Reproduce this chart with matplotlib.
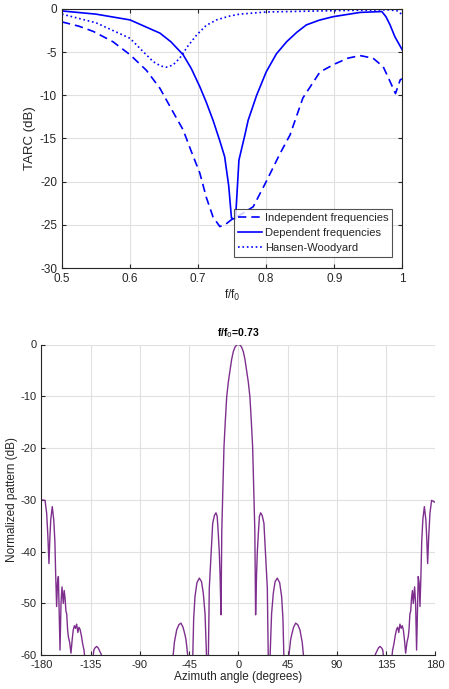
import numpy as np
import matplotlib.pyplot as plt

# ---------- TARC vs f/f0 (top panel) ----------
f_ind = [0.50, 0.525, 0.546, 0.575, 0.60, 0.624, 0.644, 0.663, 0.678, 0.69, 0.7025,
         0.712, 0.722, 0.732, 0.741, 0.749, 0.765, 0.781, 0.80, 0.82, 0.835, 0.854,
         0.879, 0.90, 0.92, 0.938, 0.957, 0.972, 0.982, 0.99, 0.997, 1.0]
tarc_ind = [-1.5, -2.0, -2.6, -3.8, -5.3, -7.1, -9.2, -11.9, -14.0, -16.5, -19.0,
            -21.8, -24.1, -25.2, -24.9, -24.4, -23.7, -22.9, -20.0, -16.8, -14.6, -10.3,
            -7.3, -6.4, -5.7, -5.4, -5.7, -6.7, -8.4, -9.8, -8.2, -8.1]

f_dep = [0.50, 0.55, 0.60, 0.644, 0.66, 0.678, 0.69, 0.7025, 0.712, 0.722, 0.732,
         0.739, 0.745, 0.749, 0.752, 0.755, 0.760, 0.7687, 0.7735, 0.786, 0.80,
         0.815, 0.83, 0.845, 0.859, 0.878, 0.898, 0.938, 0.97, 0.976, 0.982, 0.989, 1.0]
tarc_dep = [-0.23, -0.6, -1.27, -2.8, -3.8, -5.3, -6.9, -9.0, -10.8, -12.9, -15.3,
            -17.1, -20.5, -24.2, -24.3, -24.3, -17.5, -14.6, -12.9, -10.0, -7.3,
            -5.2, -3.8, -2.7, -1.85, -1.3, -0.9, -0.4, -0.3, -0.9, -1.85, -3.2, -4.75]

f_hw = [0.50, 0.55, 0.60, 0.62, 0.634, 0.645, 0.653, 0.663, 0.673, 0.685, 0.698,
        0.712, 0.727, 0.745, 0.761, 0.80, 0.90, 0.977, 0.992, 0.999]
tarc_hw = [-0.6, -1.6, -3.4, -5.0, -6.1, -6.6, -6.75, -6.5, -5.7, -4.3, -3.0,
           -1.9, -1.27, -0.85, -0.6, -0.35, -0.2, -0.1, -0.2, -0.6]

# ---------- Normalized pattern at f/f0 = 0.73 (bottom panel) ----------
az = [-180.0, -176.6, -175.1, -174.0, -173.0, -172.2, -171.4, -170.0, -168.6, -167.6,
      -166.9, -166.0, -165.2, -164.4, -163.6, -162.9, -162.0, -161.1, -160.5, -159.9,
      -159.1, -158.3, -157.5, -156.8, -156.0, -155.3, -154.1, -152.9, -151.8, -150.8,
      -149.8, -148.8, -147.7, -146.6, -145.6, -144.6, -143.4, -142.2, -141.0, -140.0,
      -133.0, -132.0, -131.0, -129.4, -128.0, -126.6, -125.3, -124.0,
      -60.0, -58.4, -56.3, -54.3, -52.4, -50.5, -48.8, -47.8, -45.7,
      -41.7, -40.8, -39.6, -37.8, -35.6, -33.6, -32.0, -30.4, -28.9,
      -27.4, -26.5, -25.2, -23.4, -21.8, -20.4, -19.3, -18.3, -17.4, -16.7, -15.8,
      -15.1, -14.3, -13.1, -11.8, -10.6, -9.1, -7.6, -6.1, -4.6, -3.0, -1.5, 0.0,
      1.5, 3.0, 4.6, 6.1, 7.6, 9.1, 10.6, 11.8, 13.1, 14.3, 15.1,
      15.8, 16.7, 17.4, 18.3, 19.3, 20.4, 21.8, 23.4, 25.2, 26.5, 27.4,
      28.9, 30.4, 32.0, 33.6, 35.6, 37.8, 39.6, 40.8, 41.7,
      45.7, 47.8, 48.8, 50.5, 52.4, 54.3, 56.3, 58.4, 60.0,
      124.0, 125.3, 126.6, 128.0, 129.4, 131.0, 132.0, 133.0,
      140.0, 141.0, 142.2, 143.4, 144.6, 145.6, 146.6, 147.7, 148.8, 149.8,
      150.8, 151.8, 152.9, 154.1, 155.3, 156.0, 156.8, 157.5, 158.3, 159.1,
      159.9, 160.5, 161.1, 162.0, 162.9, 163.6, 164.4, 165.2, 166.0, 166.9,
      167.6, 168.6, 170.0, 171.4, 172.2, 173.0, 174.0, 175.1, 176.6, 180.0]
pattern_db = [-30.0, -30.1, -32.6, -37.0, -42.3, -37.5, -33.9, -31.3, -33.9, -38.0,
              -44.2, -50.6, -46.0, -44.8, -52.0, -59.0, -50.0, -46.8, -48.5, -50.0,
              -47.5, -49.0, -51.5, -52.0, -55.0, -56.4, -57.5, -59.6, -57.0, -55.1,
              -54.3, -54.8, -54.0, -55.6, -54.6, -55.0, -56.2, -57.8, -59.0, -61.0,
              -61.0, -59.0, -58.6, -58.3, -58.6, -59.2, -59.8, -61.0,
              -61.0, -57.5, -55.1, -54.1, -53.8, -54.6, -56.0, -57.0, -61.0,
              -61.0, -53.0, -48.7, -46.0, -45.1, -45.8, -48.0, -52.0, -61.0,
              -61.0, -47.0, -41.6, -34.5, -33.0, -32.5, -33.2, -36.5, -40.0, -44.2, -52.2,
              -36.0, -29.4, -19.8, -14.5, -10.1, -7.2, -5.0, -2.9, -1.4, -0.5, -0.1, 0.0,
              -0.1, -0.5, -1.4, -2.9, -5.0, -7.2, -10.1, -14.5, -19.8, -29.4, -36.0,
              -52.2, -44.2, -40.0, -36.5, -33.2, -32.5, -33.0, -34.5, -41.6, -47.0, -61.0,
              -61.0, -52.0, -48.0, -45.8, -45.1, -46.0, -48.7, -53.0, -61.0,
              -61.0, -57.0, -56.0, -54.6, -53.8, -54.1, -55.1, -57.5, -61.0,
              -61.0, -59.8, -59.2, -58.6, -58.3, -58.6, -59.0, -61.0,
              -61.0, -59.0, -57.8, -56.2, -55.0, -54.6, -55.6, -54.0, -54.8, -54.3,
              -55.1, -57.0, -59.6, -57.5, -56.4, -55.0, -52.0, -51.5, -49.0, -47.5,
              -50.0, -48.5, -46.8, -50.0, -59.0, -52.0, -44.8, -46.0, -50.6, -44.2,
              -38.0, -33.9, -31.3, -33.9, -37.5, -42.3, -37.0, -32.6, -30.1, -30.5]

blue = '#0000FF'
purple = '#7E2F8E'
txt = '#262626'

plt.rcParams['font.family'] = ['Liberation Sans', 'DejaVu Sans']
plt.rcParams['axes.unicode_minus'] = False

fig = plt.figure(figsize=(4.49, 6.89), dpi=100)


def style_axes(ax, fs, box):
    ax.grid(True, color='#E0E0E0', linewidth=0.8)
    ax.set_axisbelow(True)
    for s in ('top', 'right'):
        ax.spines[s].set_visible(box)
    for s in ax.spines:
        ax.spines[s].set_color(txt)
        ax.spines[s].set_linewidth(0.8)
    ax.tick_params(direction='in', length=3, width=0.8, colors=txt, labelsize=fs,
                   top=box, right=box)


# top panel
ax1 = fig.add_axes([0.138, 0.611, 0.758, 0.376])
ax1.plot(f_ind, tarc_ind, '--', color=blue, lw=1.2, dashes=(5, 3), label='Independent frequencies')
ax1.plot(f_dep, tarc_dep, '-', color=blue, lw=1.2, label='Dependent frequencies')
ax1.plot(f_hw, tarc_hw, ':', color=blue, lw=1.2, label='Hansen-Woodyard')
ax1.set_xlim(0.5, 1.0)
ax1.set_ylim(-30, 0)
ax1.set_xticks([0.5, 0.6, 0.7, 0.8, 0.9, 1.0])
ax1.set_xticklabels(['0.5', '0.6', '0.7', '0.8', '0.9', '1'])
ax1.set_yticks([-30, -25, -20, -15, -10, -5, 0])
style_axes(ax1, 8.5, True)
ax1.set_xlabel('f/f$_0$', fontsize=8.5, color=txt, labelpad=2)
ax1.set_ylabel('TARC (dB)', fontsize=9.5, color=txt, labelpad=3)
leg = ax1.legend(loc='lower right', fontsize=8, frameon=True, fancybox=False,
                 borderpad=0.35, handlelength=2.1, handletextpad=0.3, labelspacing=0.45,
                 borderaxespad=0.0, bbox_to_anchor=(0.971, 0.042))
leg.get_frame().set_edgecolor(txt)
leg.get_frame().set_linewidth(0.8)
for t in leg.get_texts():
    t.set_color(txt)

# bottom panel
ax2 = fig.add_axes([0.092, 0.049, 0.8775, 0.451])
ax2.plot(az, pattern_db, color=purple, lw=1.0)
ax2.set_xlim(-180, 180)
ax2.set_ylim(-60, 0)
ax2.set_xticks(np.arange(-180, 181, 45))
ax2.set_yticks(np.arange(-60, 1, 10))
style_axes(ax2, 8, False)
ax2.set_xlabel('Azimuth angle (degrees)', fontsize=8.5, color=txt, labelpad=1)
ax2.set_ylabel('Normalized pattern (dB)', fontsize=8.5, color=txt, labelpad=2)
ax2.set_title('f/f$_0$=0.73', fontsize=7.5, fontweight='bold', pad=6)

plt.savefig('out.png', dpi=100)
